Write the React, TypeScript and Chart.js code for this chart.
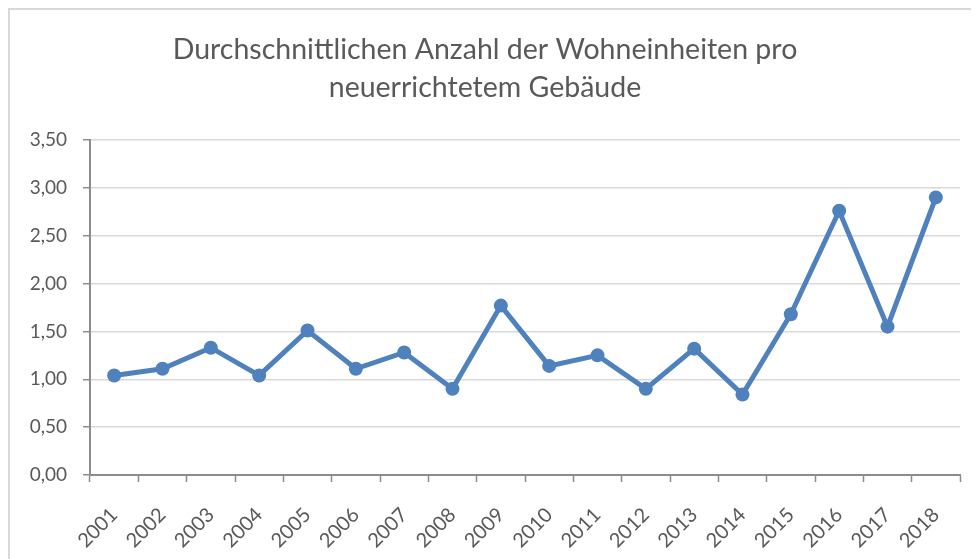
import React, { useEffect, useRef } from "react";
import { Chart, registerables } from "chart.js";

Chart.register(...registerables);

const titleLines = ["Durchschnittlichen Anzahl der Wohneinheiten pro", "neuerrichtetem Gebäude"];
const years = ["2001", "2002", "2003", "2004", "2005", "2006", "2007", "2008", "2009", "2010", "2011", "2012", "2013", "2014", "2015", "2016", "2017", "2018"];
const averages = [1.04, 1.11, 1.33, 1.04, 1.51, 1.11, 1.28, 0.9, 1.77, 1.14, 1.25, 0.9, 1.32, 0.84, 1.68, 2.76, 1.55, 2.9];
const yMin = 0;
const yMax = 3.5;
const yStep = 0.5;

const FONT = "Lato, 'Open Sans', sans-serif";
const TEXT = "#595959";
const AXIS = "#8c8c8c";
const GRID = "#d9d9d9";
const LINE = "#4f81bd";

export default function App() {
  const ref = useRef<HTMLCanvasElement | null>(null);
  useEffect(() => {
    if (!ref.current) return;
    const chart = new Chart(ref.current, {
      type: "line",
      data: {
        labels: years,
        datasets: [
          {
            data: averages,
            borderColor: LINE,
            backgroundColor: LINE,
            borderWidth: 5,
            pointRadius: 7,
            pointBackgroundColor: LINE,
            pointBorderColor: LINE,
            pointBorderWidth: 0,
            tension: 0,
          },
        ],
      },
      options: {
        animation: false,
        responsive: false,
        maintainAspectRatio: false,
        layout: { padding: { left: 0, right: 19, top: 0, bottom: 0 } },
        plugins: {
          legend: { display: false },
          tooltip: { enabled: false },
          title: {
            display: true,
            text: titleLines,
            color: TEXT,
            font: { family: FONT, size: 28.5, weight: "normal", lineHeight: 1.333 },
            padding: { top: 21, bottom: 33 },
          },
        },
        scales: {
          x: {
            type: "category",
            offset: true,
            grid: {
              offset: true,
              drawOnChartArea: false,
              drawTicks: true,
              tickLength: 7,
              tickColor: AXIS,
              tickWidth: 1.5,
            },
            border: { display: true, color: AXIS, width: 2 },
            ticks: {
              color: TEXT,
              font: { family: FONT, size: 20 },
              maxRotation: 45,
              minRotation: 45,
              padding: 21,
              autoSkip: false,
            },
            afterFit: (s: any) => {
              s.height = 84;
            },
          },
          y: {
            min: yMin,
            max: yMax,
            grid: {
              color: GRID,
              lineWidth: 1.5,
              drawTicks: true,
              tickLength: 7,
              tickColor: AXIS,
              tickWidth: 1.5,
            },
            border: { display: true, color: AXIS, width: 2 },
            ticks: {
              stepSize: yStep,
              color: TEXT,
              font: { family: FONT, size: 19 },
              padding: 16,
              callback: (v: any) => Number(v).toFixed(2).replace(".", ","),
            },
            afterFit: (s: any) => {
              s.width = 80;
            },
          },
        },
      },
    });
    return () => chart.destroy();
  }, []);
  return (
    <div
      style={{
        borderLeft: "2px solid #d9d9d9",
        borderTop: "2px solid #d9d9d9",
        width: 969,
        height: 549,
        overflow: "hidden",
        background: "#fff",
      }}
    >
      <canvas ref={ref} width={969} height={549} style={{ display: "block" }} />
    </div>
  );
}
